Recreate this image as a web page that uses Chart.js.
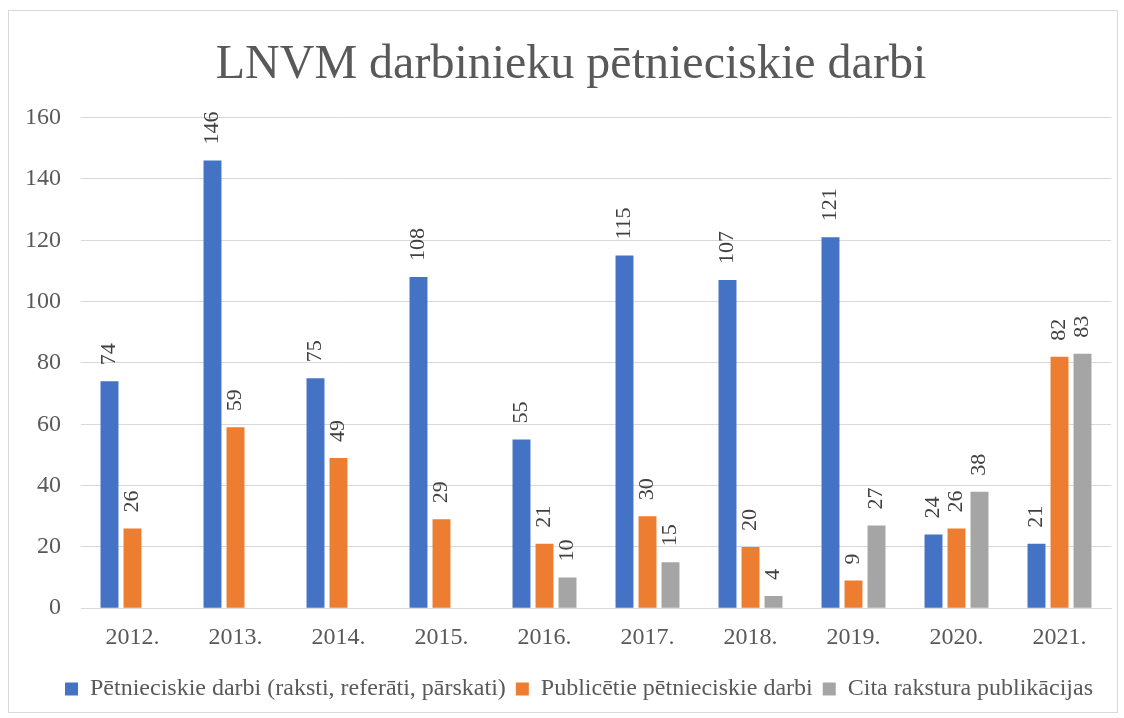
<!DOCTYPE html>
<html>
<head>
<meta charset="utf-8">
<script src="https://cdn.jsdelivr.net/npm/chart.js@4"></script>
<style>
  body { margin: 0; background: #fff; }
  #box { position: absolute; left: 8px; top: 10px; width: 1108px; height: 701px; border: 1px solid #d9d9d9; }
</style>
</head>
<body>
<div id="box"><canvas id="chart"></canvas></div>
<script>
const years = ["2012.", "2013.", "2014.", "2015.", "2016.", "2017.", "2018.", "2019.", "2020.", "2021."];
const petnieciskie = [74, 146, 75, 108, 55, 115, 107, 121, 24, 21];
const publicetie = [26, 59, 49, 29, 21, 30, 20, 9, 26, 82];
const cita = [null, null, null, null, 10, 15, 4, 27, 38, 83];
const yTicks = [0, 20, 40, 60, 80, 100, 120, 140, 160];

const serif = "'Liberation Serif', 'Times New Roman', serif";
const textColor = "#595959";

// vertical value labels above each bar
const barLabels = {
    id: "barLabels",
    afterDatasetsDraw(chart) {
        const ctx = chart.ctx;
        ctx.save();
        ctx.font = "22px " + serif;
        ctx.fillStyle = "#404040";
        ctx.textAlign = "left";
        ctx.textBaseline = "middle";
        chart.data.datasets.forEach((ds, i) => {
            chart.getDatasetMeta(i).data.forEach((bar, j) => {
                const v = ds.data[j];
                if (v == null) return;
                ctx.save();
                ctx.translate(bar.x, bar.y - 16);
                ctx.rotate(-Math.PI / 2);
                ctx.fillText(String(v), 0, 0);
                ctx.restore();
            });
        });
        ctx.restore();
    }
};

// nudge title and legend a bit to the right, like the original
const nudge = {
    id: "nudge",
    afterLayout(chart) {
        if (chart.titleBlock) { chart.titleBlock.left += 22; }
        if (chart.legend) { chart.legend.left += 19; chart.legend.right += 19; }
    }
};

new Chart(document.getElementById("chart"), {
    type: "bar",
    data: {
        labels: years,
        datasets: [
            { label: "Pētnieciskie darbi (raksti, referāti, pārskati)", data: petnieciskie, backgroundColor: "#4472c4" },
            { label: "Publicētie pētnieciskie darbi", data: publicetie, backgroundColor: "#ed7d31" },
            { label: "Cita rakstura publikācijas", data: cita, backgroundColor: "#a5a5a5" }
        ]
    },
    options: {
        responsive: true,
        maintainAspectRatio: false,
        animation: false,
        categoryPercentage: 0.67,
        barPercentage: 0.78,
        layout: { padding: { left: 0, right: 6, top: 0, bottom: 1 } },
        plugins: {
            title: {
                display: true,
                text: "LNVM darbinieku pētnieciskie darbi",
                color: textColor,
                font: { family: serif, size: 48, weight: "normal" },
                padding: { top: 26, bottom: 23 }
            },
            legend: {
                position: "bottom",
                labels: {
                    color: textColor,
                    font: { family: serif, size: 24 },
                    boxWidth: 13,
                    boxHeight: 13,
                    padding: 10
                }
            },
            tooltip: { enabled: false }
        },
        scales: {
            x: {
                grid: { display: false },
                border: { color: "#d9d9d9" },
                afterFit: axis => { axis.height += 8; },
                ticks: { color: textColor, font: { family: serif, size: 24 }, padding: 7 }
            },
            y: {
                min: 0,
                max: 160,
                afterBuildTicks: axis => { axis.ticks = yTicks.map(v => ({ value: v })); },
                afterFit: axis => { axis.width -= 4; },
                grid: { color: "#d9d9d9", drawTicks: false },
                border: { display: false },
                ticks: { color: textColor, font: { family: serif, size: 24 }, padding: 20 }
            }
        }
    },
    plugins: [barLabels, nudge]
});
</script>
</body>
</html>
